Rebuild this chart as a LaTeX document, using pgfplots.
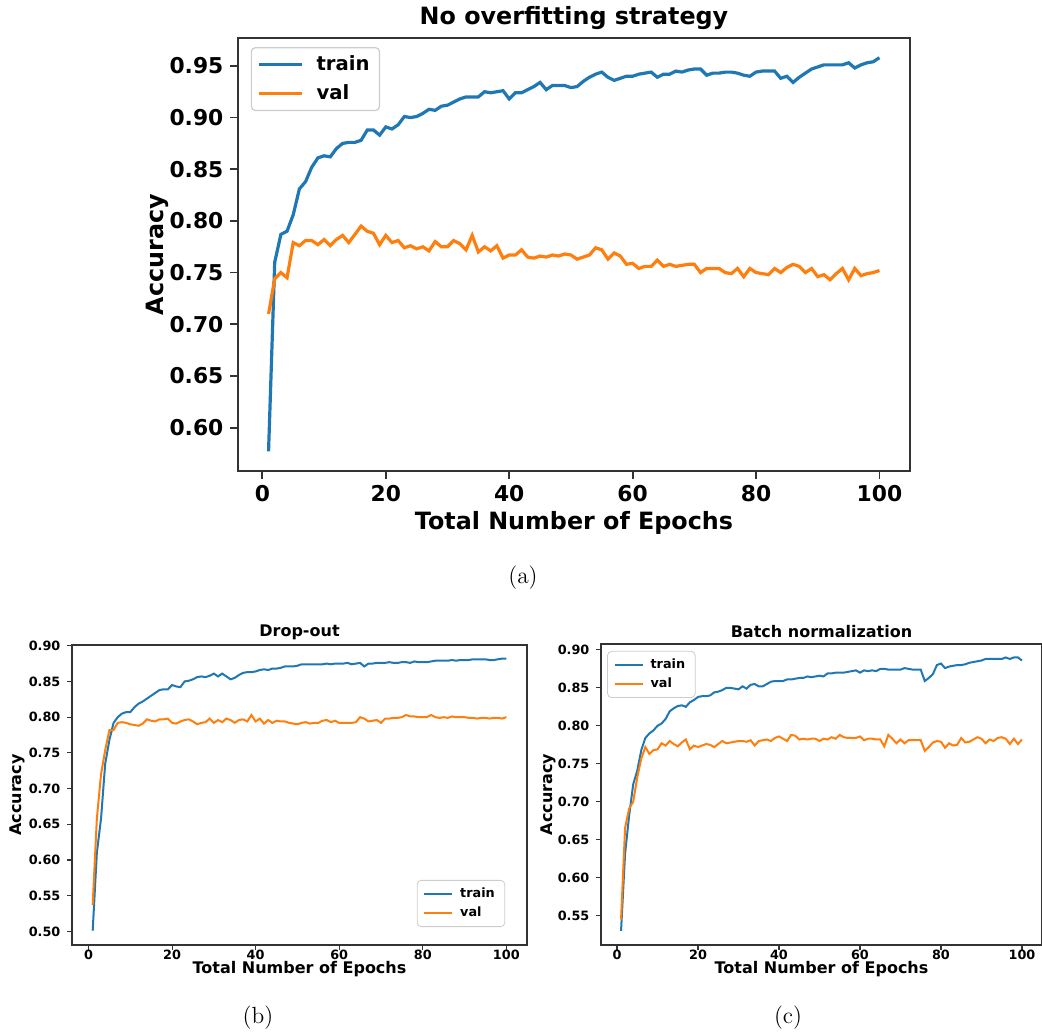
\documentclass[border=0pt]{standalone}
\usepackage{fontspec}
\usepackage{pgfplots}
\usepackage{pgfplotstable}
\pgfplotsset{compat=1.18}
\newfontfamily\dv{DejaVu Sans}
\definecolor{mplblue}{HTML}{1F77B4}
\definecolor{mplorange}{HTML}{FF7F0E}

% epoch train val
\pgfplotstableread{
e tr va
1 0.577 0.710
2 0.760 0.744
3 0.787 0.750
4 0.790 0.745
5 0.806 0.779
6 0.831 0.776
7 0.838 0.781
8 0.852 0.781
9 0.861 0.777
10 0.863 0.782
11 0.862 0.776
12 0.870 0.782
13 0.875 0.786
14 0.876 0.779
15 0.876 0.787
16 0.878 0.795
17 0.888 0.790
18 0.888 0.788
19 0.883 0.777
20 0.891 0.786
21 0.889 0.779
22 0.893 0.781
23 0.901 0.774
24 0.900 0.776
25 0.901 0.773
26 0.904 0.775
27 0.908 0.771
28 0.907 0.780
29 0.911 0.775
30 0.912 0.775
31 0.915 0.781
32 0.918 0.778
33 0.920 0.772
34 0.920 0.786
35 0.920 0.770
36 0.925 0.775
37 0.924 0.771
38 0.925 0.776
39 0.926 0.764
40 0.918 0.767
41 0.924 0.767
42 0.924 0.772
43 0.927 0.765
44 0.930 0.764
45 0.934 0.766
46 0.927 0.765
47 0.931 0.767
48 0.931 0.766
49 0.931 0.768
50 0.929 0.767
51 0.930 0.763
52 0.935 0.765
53 0.939 0.767
54 0.942 0.774
55 0.944 0.772
56 0.939 0.763
57 0.936 0.769
58 0.938 0.766
59 0.940 0.758
60 0.940 0.759
61 0.942 0.754
62 0.943 0.756
63 0.944 0.756
64 0.939 0.762
65 0.942 0.756
66 0.942 0.758
67 0.945 0.756
68 0.944 0.757
69 0.946 0.758
70 0.947 0.758
71 0.947 0.750
72 0.941 0.754
73 0.943 0.754
74 0.943 0.754
75 0.944 0.750
76 0.944 0.749
77 0.943 0.754
78 0.941 0.746
79 0.940 0.754
80 0.944 0.750
81 0.945 0.749
82 0.945 0.748
83 0.945 0.754
84 0.938 0.750
85 0.940 0.755
86 0.934 0.758
87 0.939 0.756
88 0.943 0.750
89 0.947 0.754
90 0.949 0.746
91 0.951 0.748
92 0.951 0.743
93 0.951 0.749
94 0.951 0.754
95 0.953 0.743
96 0.948 0.754
97 0.951 0.747
98 0.953 0.749
99 0.954 0.750
100 0.958 0.752
}\dataA

\pgfplotstableread{
e tr va
1 0.501 0.537
2 0.610 0.658
3 0.658 0.720
4 0.735 0.754
5 0.768 0.782
6 0.792 0.782
7 0.800 0.792
8 0.805 0.793
9 0.807 0.792
10 0.807 0.790
11 0.814 0.789
12 0.819 0.788
13 0.822 0.791
14 0.826 0.797
15 0.830 0.795
16 0.834 0.794
17 0.838 0.797
18 0.839 0.797
19 0.839 0.798
20 0.845 0.792
21 0.843 0.791
22 0.842 0.794
23 0.850 0.796
24 0.851 0.797
25 0.853 0.794
26 0.856 0.790
27 0.857 0.792
28 0.856 0.793
29 0.858 0.798
30 0.861 0.792
31 0.857 0.796
32 0.861 0.793
33 0.857 0.798
34 0.853 0.796
35 0.855 0.792
36 0.859 0.796
37 0.862 0.797
38 0.863 0.794
39 0.863 0.803
40 0.864 0.794
41 0.866 0.798
42 0.867 0.791
43 0.866 0.796
44 0.868 0.792
45 0.868 0.795
46 0.869 0.794
47 0.871 0.794
48 0.871 0.792
49 0.871 0.791
50 0.872 0.790
51 0.874 0.792
52 0.874 0.793
53 0.874 0.791
54 0.874 0.792
55 0.874 0.792
56 0.874 0.795
57 0.875 0.796
58 0.874 0.793
59 0.875 0.795
60 0.875 0.792
61 0.875 0.792
62 0.876 0.792
63 0.874 0.792
64 0.875 0.793
65 0.876 0.800
66 0.871 0.798
67 0.875 0.794
68 0.875 0.795
69 0.876 0.796
70 0.876 0.792
71 0.876 0.798
72 0.877 0.798
73 0.876 0.799
74 0.876 0.799
75 0.877 0.800
76 0.877 0.803
77 0.876 0.801
78 0.878 0.801
79 0.877 0.800
80 0.877 0.800
81 0.877 0.800
82 0.878 0.803
83 0.879 0.800
84 0.879 0.799
85 0.879 0.800
86 0.879 0.799
87 0.880 0.801
88 0.879 0.800
89 0.880 0.800
90 0.880 0.800
91 0.880 0.799
92 0.881 0.799
93 0.881 0.798
94 0.881 0.799
95 0.881 0.799
96 0.880 0.798
97 0.880 0.799
98 0.881 0.799
99 0.882 0.798
100 0.882 0.800
}\dataB

\pgfplotstableread{
e tr va
1 0.530 0.545
2 0.632 0.666
3 0.682 0.691
4 0.723 0.700
5 0.741 0.732
6 0.768 0.757
7 0.784 0.772
8 0.790 0.763
9 0.794 0.768
10 0.800 0.769
11 0.803 0.777
12 0.809 0.774
13 0.819 0.780
14 0.823 0.776
15 0.826 0.773
16 0.827 0.778
17 0.825 0.782
18 0.831 0.769
19 0.834 0.774
20 0.838 0.772
21 0.839 0.774
22 0.839 0.776
23 0.840 0.775
24 0.844 0.772
25 0.845 0.776
26 0.847 0.780
27 0.850 0.777
28 0.850 0.778
29 0.849 0.779
30 0.848 0.780
31 0.852 0.780
32 0.849 0.779
33 0.854 0.781
34 0.855 0.774
35 0.852 0.780
36 0.852 0.781
37 0.855 0.782
38 0.858 0.780
39 0.859 0.784
40 0.859 0.786
41 0.859 0.783
42 0.861 0.780
43 0.861 0.788
44 0.862 0.787
45 0.863 0.782
46 0.863 0.783
47 0.865 0.782
48 0.864 0.783
49 0.865 0.783
50 0.866 0.780
51 0.865 0.783
52 0.869 0.782
53 0.869 0.785
54 0.870 0.783
55 0.870 0.788
56 0.870 0.785
57 0.871 0.784
58 0.872 0.784
59 0.873 0.784
60 0.870 0.786
61 0.873 0.781
62 0.872 0.783
63 0.873 0.783
64 0.872 0.782
65 0.875 0.782
66 0.875 0.773
67 0.874 0.788
68 0.874 0.783
69 0.874 0.777
70 0.874 0.782
71 0.876 0.777
72 0.875 0.781
73 0.874 0.781
74 0.874 0.781
75 0.874 0.781
76 0.859 0.767
77 0.863 0.772
78 0.868 0.778
79 0.880 0.780
80 0.882 0.779
81 0.876 0.771
82 0.878 0.777
83 0.879 0.774
84 0.880 0.775
85 0.880 0.784
86 0.881 0.778
87 0.883 0.779
88 0.884 0.782
89 0.885 0.785
90 0.886 0.783
91 0.888 0.777
92 0.888 0.782
93 0.888 0.780
94 0.888 0.784
95 0.888 0.785
96 0.890 0.783
97 0.888 0.776
98 0.890 0.783
99 0.890 0.776
100 0.886 0.782
}\dataC

\pgfplotsset{
  mpl/.style={
    scale only axis,
    xmin=-3.95, xmax=104.95,
    xtick={0,20,...,100},
    tick align=outside,
    tick pos=left,
    axis line style={black!80},
    every tick/.style={black!80},
    /pgf/number format/assume math mode=true,
    y tick label style={/pgf/number format/.cd, fixed, fixed zerofill, precision=2, /tikz/.cd},
    legend cell align=left,
    legend style={draw=black!20, rounded corners=2pt, fill=white, fill opacity=0.8, text opacity=1},
    every axis title shift=0pt,
    title style={anchor=center, yshift=0pt},
    xlabel style={anchor=center},
    ylabel style={anchor=center},
  },
}

\begin{document}
\begin{tikzpicture}
\path[use as bounding box] (0,0) rectangle (521pt,-516pt);

% (a)
\begin{axis}[mpl,
  at={(119pt,-235.5pt)}, anchor=south west,
  width=336pt, height=216.5pt,
  ymin=0.558, ymax=0.977,
  ytick={0.60,0.65,...,0.951},
  axis line style={line width=0.9pt},
  major tick length=3.8pt,
  every tick/.append style={line width=0.9pt},
  tick label style={font=\dv\bfseries\fontsize{10.9}{13}\selectfont},
  title={No overfitting strategy},
  title style={at={(axis description cs:0.5,1.046)}, anchor=center, font=\dv\bfseries\fontsize{11.9}{14}\selectfont},
  xlabel={Total Number of Epochs},
  xlabel style={at={(axis description cs:0.5,-0.12)}, font=\dv\bfseries\fontsize{11.9}{14}\selectfont},
  ylabel={Accuracy},
  ylabel style={at={(axis description cs:-0.1205,0.5)}, font=\dv\bfseries\fontsize{11.9}{14}\selectfont},
  legend style={at={(axis description cs:0.019,0.979)}, anchor=north west,
    font=\dv\bfseries\fontsize{9.8}{12}\selectfont, line width=0.6pt,
    row sep=1.5pt, inner xsep=3pt,
    /tikz/every odd column/.append style={column sep=4.5pt}},
  legend image code/.code={\draw[#1] (0pt,0pt) -- (21.5pt,0pt);},
]
\addplot[mplblue, line width=1.6pt] table[x=e, y=tr] {\dataA};
\addplot[mplorange, line width=1.6pt] table[x=e, y=va] {\dataA};
\legend{train, val}
\end{axis}

% (b)
\begin{axis}[mpl,
  at={(36pt,-472.5pt)}, anchor=south west,
  width=227.5pt, height=150pt,
  ymin=0.481, ymax=0.901,
  ytick={0.50,0.55,...,0.901},
  axis line style={line width=0.55pt},
  major tick length=2.3pt,
  every tick/.append style={line width=0.55pt},
  tick label style={font=\dv\bfseries\fontsize{6.4}{8}\selectfont},
  x tick label style={yshift=3.5pt},
  title={Drop-out},
  title style={at={(axis description cs:0.5,1.043)}, anchor=center, font=\dv\bfseries\fontsize{8}{10}\selectfont},
  xlabel={Total Number of Epochs},
  xlabel style={at={(axis description cs:0.5,-0.08)}, font=\dv\bfseries\fontsize{8}{10}\selectfont},
  ylabel={Accuracy},
  ylabel style={at={(axis description cs:-0.119,0.5)}, font=\dv\bfseries\fontsize{8}{10}\selectfont},
  legend style={at={(axis description cs:0.952,0.06)}, anchor=south east,
    font=\dv\bfseries\fontsize{6.4}{8}\selectfont, line width=0.4pt,
    nodes={inner ysep=1.6pt},
    /tikz/every odd column/.append style={column sep=1.5pt}},
  legend image code/.code={\draw[#1] (0pt,0pt) -- (14pt,0pt);},
]
\addplot[mplblue, line width=1pt] table[x=e, y=tr] {\dataB};
\addplot[mplorange, line width=1pt] table[x=e, y=va] {\dataB};
\legend{train, val}
\end{axis}

% (c)
\begin{axis}[mpl,
  at={(300.5pt,-472.5pt)}, anchor=south west,
  width=220.5pt, height=150.5pt,
  ymin=0.5114, ymax=0.9077,
  ytick={0.55,0.60,...,0.901},
  axis line style={line width=0.55pt},
  major tick length=2.3pt,
  every tick/.append style={line width=0.55pt},
  tick label style={font=\dv\bfseries\fontsize{6.4}{8}\selectfont},
  x tick label style={yshift=3.5pt},
  title={Batch normalization},
  title style={at={(axis description cs:0.5,1.04)}, anchor=center, font=\dv\bfseries\fontsize{8}{10}\selectfont},
  xlabel={Total Number of Epochs},
  xlabel style={at={(axis description cs:0.5,-0.08)}, font=\dv\bfseries\fontsize{8}{10}\selectfont},
  ylabel={Accuracy},
  ylabel style={at={(axis description cs:-0.12,0.5)}, font=\dv\bfseries\fontsize{8}{10}\selectfont},
  legend style={at={(axis description cs:0.014,0.977)}, anchor=north west,
    font=\dv\bfseries\fontsize{6.4}{8}\selectfont, line width=0.4pt,
    nodes={inner ysep=1.6pt},
    /tikz/every odd column/.append style={column sep=1.5pt}},
  legend image code/.code={\draw[#1] (0pt,0pt) -- (14pt,0pt);},
]
\addplot[mplblue, line width=1pt] table[x=e, y=tr] {\dataC};
\addplot[mplorange, line width=1pt] table[x=e, y=va] {\dataC};
\legend{train, val}
\end{axis}

\node[font=\fontsize{11.7}{14}\selectfont] at (261.5pt,-289pt) {(a)};
\node[font=\fontsize{11.7}{14}\selectfont] at (129pt,-509pt) {(b)};
\node[font=\fontsize{11.7}{14}\selectfont] at (394pt,-509pt) {(c)};
\end{tikzpicture}
\end{document}
